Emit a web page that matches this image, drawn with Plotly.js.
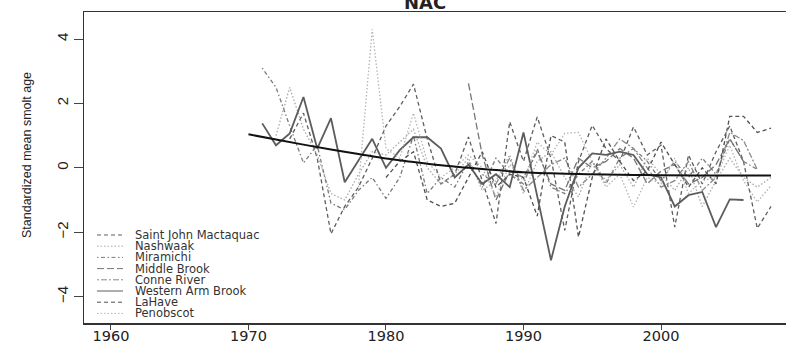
<!DOCTYPE html>
<html>
<head>
<meta charset="utf-8">
<script src="https://cdn.plot.ly/plotly-3.0.1.min.js"></script>
<style>html,body{margin:0;padding:0;background:#fff;}#chart{width:786px;height:346px;}</style>
</head>
<body>
<div id="chart"></div>
<script>
// ---- data ----
const seriesNames = ["Saint John Mactaquac","Nashwaak","Miramichi","Middle Brook","Conne River","Western Arm Brook","LaHave","Penobscot"];

const sjYears = [1973,1974,1975,1976,1977,1978,1979,1980,1981,1982,1983,1984,1985,1986,1987,1988,1989,1990,1991,1992,1993,1994,1995,1996,1997,1998,1999,2000,2001,2002,2003,2004,2005,2006,2007,2008];
const sjVals  = [0.9,1.7,0.3,-2.05,-1.2,-0.6,0.3,1.3,1.9,2.6,0.9,-0.5,-0.2,0.96,-0.4,-1.73,1.43,0.2,1.58,0.3,-1.94,0.2,1.32,0.6,0.2,1.27,0.4,0.7,-1.84,0.4,-0.5,0.5,1.3,0.2,-1.88,-1.2];

const nwYears = [1972,1973,1974,1975,1976,1977,1978,1979,1980,1981,1982,1983,1984,1985,1986,1987,1988,1989,1990,1991,1992,1993,1994,1995,1996,1997,1998,1999,2000,2001,2002,2003,2004,2005,2006,2007,2008];
const nwVals  = [1.0,2.5,1.2,0.4,-0.8,-1.0,-0.2,0.5,0.4,0.8,1.2,0.0,-0.5,-0.2,0.3,-0.7,-0.4,0.4,-0.8,0.2,0.5,-0.3,-0.9,0.2,-0.4,0.1,-0.6,0.3,-0.2,-0.7,0.0,-1.2,-0.4,0.3,-0.3,-0.6,-0.3];

const miYears = [1971,1972,1973,1974,1975,1976,1977,1978,1979,1980,1981,1982,1983,1984,1985,1986,1987,1988,1989,1990,1991,1992,1993,1994,1995,1996,1997,1998,1999,2000,2001,2002,2003,2004,2005,2006,2007];
const miVals  = [3.1,2.5,1.3,0.15,0.7,-1.1,-1.3,-0.7,-0.3,-0.95,-0.3,1.0,-0.8,-0.3,-0.6,0.2,-0.6,0.3,-0.2,-0.5,0.6,-0.6,-0.8,-0.2,0.2,-0.5,0.3,0.6,0.2,-0.4,0.2,-0.3,0.3,-0.2,0.9,0.2,-0.05];

const mbYears = [1986,1987,1988,1989,1990,1991,1992,1993,1994,1995,1996,1997,1998,1999,2000,2001,2002,2003,2004,2005,2006];
const mbVals  = [2.62,0.4,-1.0,-0.1,-0.3,0.5,-0.5,-0.7,0.3,0.0,0.2,0.6,0.3,-0.5,-0.1,0.1,-0.5,-0.3,0.1,0.9,0.2];

const crYears = [1987,1988,1989,1990,1991,1992,1993,1994,1995,1996,1997,1998,1999,2000,2001,2002,2003,2004,2005,2006,2007];
const crVals  = [-0.2,-0.5,0.3,-0.7,-0.3,0.1,0.3,-0.6,-0.2,0.3,0.9,0.6,0.0,-0.6,-0.4,0.2,-0.7,-0.3,1.1,0.85,-0.05];

const wabYears = [1971,1972,1973,1974,1975,1976,1977,1978,1979,1980,1981,1982,1983,1984,1985,1986,1987,1988,1989,1990,1991,1992,1993,1994,1995,1996,1997,1998,1999,2000,2001,2002,2003,2004,2005,2006];
const wabVals  = [1.38,0.7,1.07,2.2,0.6,1.54,-0.45,0.24,0.9,0.0,0.55,0.95,0.95,0.6,-0.3,0.1,-0.5,-0.2,-0.6,1.1,-0.9,-2.87,-1.2,0.0,0.45,0.4,0.5,0.4,-0.2,-0.3,-1.2,-0.85,-0.75,-1.84,-0.98,-1.0];

const lhYears = [1980,1981,1982,1983,1984,1985,1986,1987,1988,1989,1990,1991,1992,1993,1994,1995,1996,1997,1998,1999,2000,2001,2002,2003,2004,2005,2006,2007,2008];
const lhVals  = [-0.3,0.2,0.5,-1.0,-1.2,-1.1,-0.3,0.5,-0.6,-0.2,-0.3,-1.5,1.0,0.8,-2.15,-0.3,0.9,0.2,-0.4,-0.1,0.8,0.1,-0.6,0.0,-0.5,1.6,1.6,1.1,1.23];

const pbYears = [1978,1979,1980,1981,1982,1983,1984,1985,1986,1987,1988,1989,1990,1991,1992,1993,1994,1995,1996,1997,1998,1999,2000,2001,2002,2003,2004,2005,2006,2007,2008];
const pbVals  = [-0.6,4.3,0.6,0.3,1.7,0.2,-0.3,0.0,0.4,0.0,-0.9,0.1,-0.4,0.8,0.4,1.07,1.1,0.2,-0.6,-0.2,-1.22,-0.3,-0.5,0.3,-0.8,-0.4,-0.3,0.7,-0.4,-1.06,-0.55];

const trendYears = [1970,1972,1974,1976,1978,1980,1982,1984,1986,1988,1990,1992,1994,1996,1998,2000,2004,2008];
const trendVals  = [1.04,0.88,0.72,0.57,0.43,0.29,0.18,0.08,0.0,-0.07,-0.14,-0.17,-0.19,-0.21,-0.22,-0.23,-0.24,-0.24];

const xTicks = [1960,1970,1980,1990,2000];
const yTicks = [-4,-2,0,2,4];
const yTickText = ["\u22124","\u22122","0","2","4"];
const titleText = "NAC";
const yTitleText = "Standardized mean smolt age";

// ---- styles ----
const styles = [
  {color:"#5e5e5e", dash:"4px,3px", width:1.3},
  {color:"#a8a8a8", dash:"1.5px,2px", width:1.3},
  {color:"#7a7a7a", dash:"1.5px,2.5px,4px,2.5px", width:1.3},
  {color:"#767676", dash:"7px,3px", width:1.3},
  {color:"#8a8a8a", dash:"2px,2px,6px,2px", width:1.3},
  {color:"#5c5c5c", dash:"solid", width:1.8},
  {color:"#505050", dash:"4px,3px", width:1.3},
  {color:"#b4b4b4", dash:"1.5px,2px", width:1.3}
];
const allX = [sjYears,nwYears,miYears,mbYears,crYears,wabYears,lhYears,pbYears];
const allY = [sjVals,nwVals,miVals,mbVals,crVals,wabVals,lhVals,pbVals];

const traces = seriesNames.map((n,i)=>({
  type:"scatter", mode:"lines", name:n, x:allX[i], y:allY[i],
  line:{color:styles[i].color, dash:styles[i].dash, width:styles[i].width},
  showlegend:false, hoverinfo:"skip"
}));
traces.push({type:"scatter", mode:"lines", name:"trend", x:trendYears, y:trendVals,
  line:{color:"#111", width:2, shape:"spline"}, showlegend:false, hoverinfo:"skip"});

// ---- layout geometry ----
const W=786,H=346,ML=84,MR=0,MT=12,MB=23;
const PW=W-ML-MR, PH=H-MT-MB;
const px2x = px => (px-ML)/PW;
const py2y = py => (H-MB-py)/PH;

const shapes=[], annotations=[];
seriesNames.forEach((n,i)=>{
  const py = 235 + i*11.2;
  shapes.push({type:"line", xref:"paper", yref:"paper", x0:px2x(97), x1:px2x(123), y0:py2y(py), y1:py2y(py),
    line:{color:styles[i].color, dash:styles[i].dash, width:1}});
  annotations.push({xref:"paper", yref:"paper", x:px2x(134), y:py2y(py), xanchor:"left", yanchor:"middle",
    text:n, showarrow:false, borderpad:0,
    font:{family:"DejaVu Sans", size:11.5, color:"#333"}});
});
annotations.push({xref:"paper", yref:"paper", x:px2x(425), y:py2y(2), xanchor:"center", yanchor:"middle",
  text:titleText, showarrow:false, font:{family:"DejaVu Sans", size:18, color:"#222", weight:"bold"}});
annotations.push({xref:"paper", yref:"paper", x:px2x(27), y:py2y(155), xanchor:"center", yanchor:"middle",
  text:yTitleText, textangle:-90, showarrow:false, font:{family:"Liberation Sans", size:12.5, color:"#222"}});

const layout = {
  width:W, height:H, margin:{l:ML,r:MR,t:MT,b:MB,pad:0},
  paper_bgcolor:"#fff", plot_bgcolor:"#fff",
  showlegend:false,
  xaxis:{range:[1958.04,2009.09], tickvals:xTicks, ticks:"outside", ticklen:5, tickwidth:1, tickcolor:"#444",
    ticklabelstandoff:-6,
    showline:true, mirror:true, linecolor:"#333", linewidth:1.5, showgrid:false, zeroline:false,
    tickfont:{family:"DejaVu Sans", size:14.5, color:"#222"}},
  yaxis:{range:[-4.82,4.84], tickvals:yTicks, ticktext:yTickText, ticks:"outside", ticklen:9, tickwidth:1, tickcolor:"#444",
    tickangle:-90, showline:true, mirror:false, linecolor:"#333", linewidth:1.5, showgrid:false, zeroline:false,
    tickfont:{family:"Liberation Sans", size:15, color:"#222"}},
  shapes:shapes, annotations:annotations
};
Plotly.newPlot("chart", traces, layout, {staticPlot:true, displayModeBar:false});
</script>
</body>
</html>
